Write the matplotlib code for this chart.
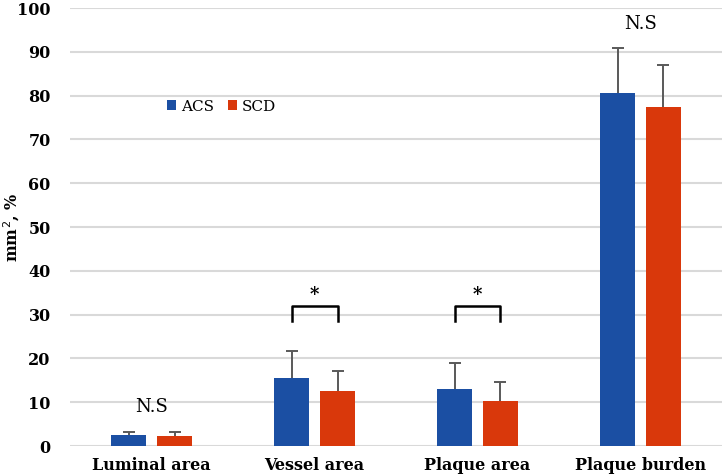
import matplotlib.pyplot as plt
import numpy as np

categories = ["Luminal area", "Vessel area", "Plaque area", "Plaque burden"]
acs_mean = [2.5, 15.6, 13.0, 80.7]
acs_sd = [0.8, 6.2, 6.0, 10.1]
scd_mean = [2.4, 12.6, 10.2, 77.3]
scd_sd = [0.7, 4.6, 4.5, 9.8]
sig_labels = ["N.S", "*", "*", "N.S"]

blue = "#1b4fa3"
red = "#d9380b"
err_col = "#595959"
serif = "DejaVu Serif"

fig = plt.figure(figsize=(7.22, 4.76), dpi=100)
ax = fig.add_axes([0.097, 0.063, 0.903, 0.92])

x = np.arange(len(categories))
width = 0.22
offset = 0.141

ax.bar(x - offset, acs_mean, width, color=blue, label="ACS", zorder=3)
ax.bar(x + offset, scd_mean, width, color=red, label="SCD", zorder=3)

# upward-only error bars (no cap at the bar top)
for xs, m, sd in [(x - offset, acs_mean, acs_sd), (x + offset, scd_mean, scd_sd)]:
    tops = np.array(m) + np.array(sd)
    ax.vlines(xs, m, tops, color=err_col, lw=1.4, zorder=4)
    ax.plot(xs, tops, ls="none", marker="_", ms=8, mew=1.4, color=err_col, zorder=4)

# significance marks
for i, lab in enumerate(sig_labels):
    if lab == "*":
        ax.plot([i - offset, i - offset, i + offset, i + offset], [28.6, 31.9, 31.9, 28.6],
                color="black", lw=1.8, zorder=5)
        ax.text(i, 34.5, "*", ha="center", va="center", fontsize=13, fontweight="bold",
                family=serif)
    else:
        top = max(acs_mean[i] + acs_sd[i], scd_mean[i] + scd_sd[i])
        ax.text(i, top + 5.5, lab, ha="center", va="center", fontsize=13, family=serif)

ax.set_xlim(-0.5, 3.5)
ax.set_ylim(0, 100)
ax.set_yticks(np.arange(0, 101, 10))
ax.grid(True, axis="y", color="#d9d9d9", lw=1.5, zorder=0)
ax.set_axisbelow(True)
for s in ax.spines.values():
    s.set_visible(False)
ax.tick_params(axis="both", length=0, pad=8)
ax.set_xticks(x)
ax.set_xticklabels(categories, fontsize=11.5, fontweight="bold", family=serif)
for t in ax.get_yticklabels():
    t.set_fontsize(11.5)
    t.set_fontweight("bold")
    t.set_family(serif)
ax.tick_params(axis="y", pad=14)
ax.set_ylabel("mm$^2$, %", fontsize=11.5, fontweight="bold", family=serif)
ax.yaxis.set_label_coords(-0.074, 0.5)

ax.legend(loc="center", bbox_to_anchor=(0.232, 0.775), ncol=2, frameon=False,
          handlelength=0.6, handleheight=0.6, handletextpad=0.3, columnspacing=0.9,
          prop={"family": serif, "size": 11})

fig.savefig("out.png", dpi=100)
